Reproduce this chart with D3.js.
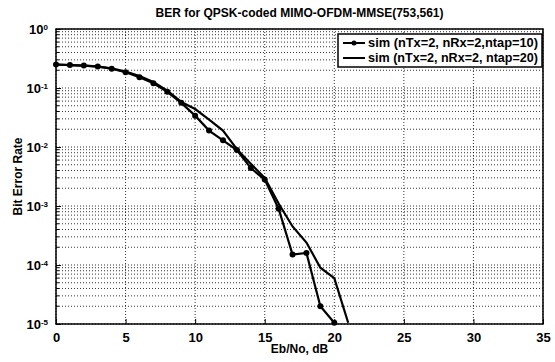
<!DOCTYPE html>
<html>
<head>
<meta charset="utf-8">
<script src="https://cdn.jsdelivr.net/npm/d3@7"></script>
<style>
  body { margin: 0; background: #fff; }
  svg { font-family: "Liberation Sans", Arial, sans-serif; font-weight: bold; }
</style>
</head>
<body>
<script>
const width = 555;
const height = 362;
const margin = { top: 29, right: 12, bottom: 38, left: 56 };

// data
const ebno10 = [0, 1, 2, 3, 4, 5, 6, 7, 8, 9, 10, 11, 12, 13, 14, 15, 16, 17, 18, 19, 20];
const ber10 = [0.25, 0.245, 0.24, 0.232, 0.212, 0.185, 0.152, 0.12, 0.086, 0.056, 0.034, 0.019, 0.013, 0.0089, 0.0044, 0.0028, 0.0009, 0.00015, 0.00016, 0.00002, 0.0000105];

const ebno20 = [0, 1, 2, 3, 4, 5, 6, 7, 8, 9, 10, 11, 12, 13, 14, 15, 16, 17, 18, 19, 20, 21];
const ber20 = [0.25, 0.245, 0.24, 0.23, 0.215, 0.19, 0.16, 0.126, 0.09, 0.058, 0.044, 0.029, 0.019, 0.0092, 0.0052, 0.003, 0.0011, 0.00045, 0.00024, 0.00009, 0.00006, 0.0000105];

const xTicks = [0, 5, 10, 15, 20, 25, 30, 35];
const yExps = [0, -1, -2, -3, -4, -5];
const legendLabels = ['sim (nTx=2, nRx=2,ntap=10)', 'sim (nTx=2, nRx=2, ntap=20)'];
const titleText = 'BER for QPSK-coded MIMO-OFDM-MMSE(753,561)';

const x = d3.scaleLinear()
  .domain([0, 35])
  .range([margin.left, width - margin.right]);

const y = d3.scaleLog()
  .domain([1e-5, 1])
  .range([height - margin.bottom, margin.top]);

const svg = d3.select('body')
  .append('svg')
  .attr('width', width)
  .attr('height', height);

// minor log values 1..9 per decade
const minor = [];
for (let e = -5; e < 0; e++) {
  for (let m = 2; m <= 9; m++) minor.push(m * Math.pow(10, e));
}

const grid = svg.append('g');
grid.selectAll('.hg')
  .data(minor.concat(yExps.map(e => Math.pow(10, e))))
  .enter()
  .append('line')
  .attr('x1', x(0)).attr('x2', x(35))
  .attr('y1', d => y(d)).attr('y2', d => y(d))
  .attr('stroke', '#000')
  .attr('stroke-width', 0.8)
  .attr('stroke-dasharray', '1,2');

grid.selectAll('.vg')
  .data(xTicks)
  .enter()
  .append('line')
  .attr('x1', d => x(d)).attr('x2', d => x(d))
  .attr('y1', y(1)).attr('y2', y(1e-5))
  .attr('stroke', '#000')
  .attr('stroke-width', 0.8)
  .attr('stroke-dasharray', '1,2');

// minor ticks on the left axis, inside
svg.append('g').selectAll('line')
  .data(minor)
  .enter()
  .append('line')
  .attr('x1', x(0)).attr('x2', x(0) + 3)
  .attr('y1', d => y(d)).attr('y2', d => y(d))
  .attr('stroke', '#000');

// axes
const xAxis = d3.axisBottom(x)
  .tickValues(xTicks)
  .tickSizeInner(-5)
  .tickSizeOuter(0)
  .tickPadding(9);

svg.append('g')
  .attr('transform', `translate(0, ${y(1e-5)})`)
  .call(xAxis)
  .call(g => g.select('.domain').remove())
  .call(g => g.selectAll('text').attr('font-size', 13).attr('font-weight', 'bold').attr('font-family', '"Liberation Sans", Arial, sans-serif').attr('fill', '#000'));

const yAxis = d3.axisLeft(y)
  .tickValues(yExps.map(e => Math.pow(10, e)))
  .tickSizeInner(-5)
  .tickSizeOuter(0)
  .tickPadding(8)
  .tickFormat('');

const yg = svg.append('g')
  .attr('transform', `translate(${x(0)}, 0)`)
  .call(yAxis)
  .call(g => g.select('.domain').remove());

yg.selectAll('.tick')
  .append('text')
  .attr('x', -8)
  .attr('dy', '0.35em')
  .attr('text-anchor', 'end')
  .attr('fill', '#000')
  .attr('font-size', 13)
  .each(function(d) {
    const t = d3.select(this);
    t.append('tspan').text('10');
    t.append('tspan')
      .attr('dy', '-0.5em')
      .attr('font-size', 8)
      .text(Math.round(Math.log10(d)));
  });

// frame
svg.append('rect')
  .attr('x', x(0)).attr('y', y(1))
  .attr('width', x(35) - x(0))
  .attr('height', y(1e-5) - y(1))
  .attr('fill', 'none')
  .attr('stroke', '#000')
  .attr('stroke-width', 1.5);

// curves
const line = d3.line()
  .x(d => x(d[0]))
  .y(d => y(d[1]));

const s10 = ebno10.map((d, i) => [d, ber10[i]]);
const s20 = ebno20.map((d, i) => [d, ber20[i]]);

svg.append('path')
  .attr('d', line(s20))
  .attr('fill', 'none')
  .attr('stroke', '#000')
  .attr('stroke-width', 2.2);

svg.append('path')
  .attr('d', line(s10))
  .attr('fill', 'none')
  .attr('stroke', '#000')
  .attr('stroke-width', 2.2);

svg.append('g').selectAll('circle')
  .data(s10)
  .enter()
  .append('circle')
  .attr('cx', d => x(d[0]))
  .attr('cy', d => y(d[1]))
  .attr('r', 3)
  .attr('fill', '#000');

// legend
const lg = svg.append('g');
lg.append('rect')
  .attr('x', 338).attr('y', 34)
  .attr('width', 204).attr('height', 33)
  .attr('fill', '#fff')
  .attr('stroke', '#000')
  .attr('stroke-width', 1.5);

legendLabels.forEach((lab, i) => {
  const ly = 43 + i * 15;
  lg.append('line')
    .attr('x1', 343).attr('x2', 365)
    .attr('y1', ly).attr('y2', ly)
    .attr('stroke', '#000')
    .attr('stroke-width', 2);
  if (i === 0) {
    lg.append('circle').attr('cx', 354).attr('cy', ly).attr('r', 2.5).attr('fill', '#000');
  }
  lg.append('text')
    .attr('x', 368).attr('y', ly)
    .attr('dy', '0.35em')
    .attr('font-size', 12)
    .attr('textLength', 170)
    .attr('lengthAdjust', 'spacingAndGlyphs')
    .text(lab);
});

// titles
svg.append('text')
  .attr('x', (x(0) + x(35)) / 2)
  .attr('y', 17)
  .attr('text-anchor', 'middle')
  .attr('font-size', 12)
  .text(titleText);

svg.append('text')
  .attr('x', (x(0) + x(35)) / 2)
  .attr('y', 353)
  .attr('text-anchor', 'middle')
  .attr('font-size', 12)
  .text('Eb/No, dB');

svg.append('text')
  .attr('transform', `translate(22, ${(y(1) + y(1e-5)) / 2}) rotate(-90)`)
  .attr('text-anchor', 'middle')
  .attr('font-size', 12)
  .text('Bit Error Rate');
</script>
</body>
</html>
